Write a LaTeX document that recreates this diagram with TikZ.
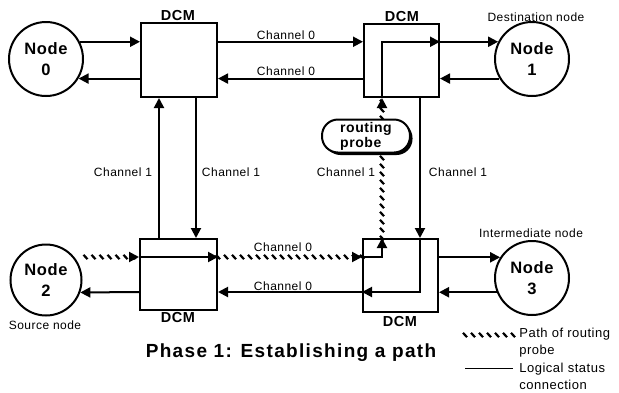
\documentclass[tikz,border=0pt]{standalone}
\usepackage{fontspec}
\setmainfont[LetterSpace=4]{Liberation Sans}
\newfontfamily\phasefont[LetterSpace=7]{Liberation Sans}
\usetikzlibrary{arrows.meta,decorations.markings,calc,shadows}
\tikzset{
  arr/.style={-{Triangle[length=10pt,width=10pt]}},
  dcmbox/.style={draw, minimum width=75pt, minimum height=73pt, inner sep=0pt},
  pe/.style={draw, circle, minimum size=74pt, inner sep=0pt, align=center,
    font=\fontsize{16.5}{21}\selectfont\bfseries},
  dcmlbl/.style={font=\fontsize{14.5}{15}\selectfont\bfseries},
  chlbl/.style={font=\fontsize{12}{13}\selectfont},
  hatch/.style={postaction={decorate}, decoration={markings,
    mark=between positions 0.0 and 1.0 step 8pt with {\pgftransformresetnontranslations
      \draw[line width=2.2pt, line cap=butt] (-2pt,2.2pt) -- (2pt,-2.2pt);}}},
  probe/.style={draw, fill=white, rounded corners=16pt, minimum width=88pt,
    minimum height=33pt, inner sep=1pt, align=left,
    font=\fontsize{14}{15}\selectfont\bfseries,
    drop shadow={shadow xshift=2.5pt, shadow yshift=-2.5pt, fill=black, opacity=1}},
  legtxt/.style={anchor=west, align=left, font=\fontsize{13}{17}\selectfont}
}
\begin{document}
\begin{tikzpicture}[x=1pt, y=-1pt, line width=2pt]
\useasboundingbox (0,0) rectangle (619,392);
\fill[white] (0,0) rectangle (619,392);

% DCM boxes
\node[dcmbox, minimum width=76pt, minimum height=74pt] (d0) at (179,60) {};
\node[dcmbox] (d1) at (401.5,60.5) {};
\node[dcmbox, minimum width=77pt, minimum height=71pt] (d2) at (178.5,274.5) {};
\node[dcmbox] (d3) at (400.5,275.5) {};
\node[dcmlbl] (l0) at (178,16) {DCM};
\node[dcmlbl] (l1) at (402,17) {DCM};
\node[dcmlbl] (l2) at (178,318) {DCM};
\node[dcmlbl] (l3) at (400,322) {DCM};

% processing nodes
\node[pe] (n0) at (46,59) {Node\\0};
\node[pe] (n1) at (532,59) {Node\\1};
\node[pe, minimum size=71pt] (n2) at (46,280) {Node\\2};
\node[pe] (n3) at (532,278) {Node\\3};
\node[chlbl] (t1) at (536,17) {Destination node};
\node[chlbl] (t3) at (531,233) {Intermediate node};
\node[chlbl] (t2) at (45,325) {Source node};

% helper levels
\coordinate (yc) at (0,257);
\coordinate (yd) at (0,292);
\coordinate (xa) at (159,0);
\coordinate (xb) at (196,0);
\coordinate (xc) at (382,0);
\coordinate (xd) at (420,0);

% top row
\draw[arr] (n0.27) -- (n0.27 -| d0.west);
\draw[arr] (d0.west |- n0.-31) -- (n0.-31);
\draw[arr] (d0.east |- n0.27) -- (d1.west |- n0.27);
\draw[arr] (d1.west |- n0.-31) -- (d0.east |- n0.-31);
\draw[arr] (xc |- d1.south) |- (d1.east |- n0.27);
\draw[arr] (d1.east |- n1.153) -- (n1.153);
\draw[arr] (n1.-149) -- (n1.-149 -| d1.east);
\node[chlbl] (c0a) at (286,35) {Channel 0};
\node[chlbl] (c0b) at (286,71) {Channel 0};

% verticals
\draw[arr] (xa |- d2.north) -- (xa |- d0.south);
\draw[arr] (xb |- d0.south) -- (xb |- d2.north);
\draw[arr] (xd |- d1.south) -- (xd |- d3.north);
\path[hatch] (xc |- d3.north) -- (xc |- d1.south);
\draw[arr] ($(xc |- d1.south)+(0,2)$) -- (xc |- d1.south);
\node[chlbl] (c1a) at (123,172) {Channel 1};
\node[chlbl] (c1b) at (231,172) {Channel 1};
\node[chlbl] (c1c) at (346,172) {Channel 1};
\node[chlbl] (c1d) at (458,172) {Channel 1};

% routing probe label
\node[probe] (rp) at (366,136) {routing\\probe};

% bottom row
\path[hatch] ($(n2.east |- yc)+(3,0)$) -- (d2.west |- yc);
\draw[arr] ($(d2.west |- yc)+(-2,0)$) -- (d2.west |- yc);
\draw[arr] (d2.west |- yc) -- (d2.east |- yc);
\path[hatch] (d2.east |- yc) -- (d3.west |- yc);
\draw[arr] ($(d3.west |- yc)+(-2,0)$) -- (d3.west |- yc);
\draw[arr] (d3.west |- yc) -| (xc |- d3.north);
\draw[arr] (xd |- d3.north) |- (d3.west |- yd);
\draw[arr] (d3.west |- yd) -- (d2.east |- yd);
\draw[arr] (d2.west |- yd) -- (n2.-20);
\draw[arr] (d3.east |- n3.147) -- (n3.147);
\draw[arr] (n3.-158) -- (n3.-158 -| d3.east);
\node[chlbl] (c0c) at (283,247) {Channel 0};
\node[chlbl] (c0d) at (283,286) {Channel 0};

% title
\node[font=\phasefont\fontsize{19}{20}\selectfont\bfseries] (ph) at (291,353) {Phase 1: Establishing a path};

% legend
\coordinate (la) at (465,335);
\coordinate (lb) at (513,335);
\coordinate (lc) at (465,368);
\coordinate (ld) at (513,368);
\path[hatch] (la) -- (lb);
\draw[line width=0.8pt] (lc) -- (ld);
\node[legtxt] (lt1) at (515,343) {Path of routing\\probe};
\node[legtxt] (lt2) at (515,376) {Logical status\\connection};
\end{tikzpicture}
\end{document}
